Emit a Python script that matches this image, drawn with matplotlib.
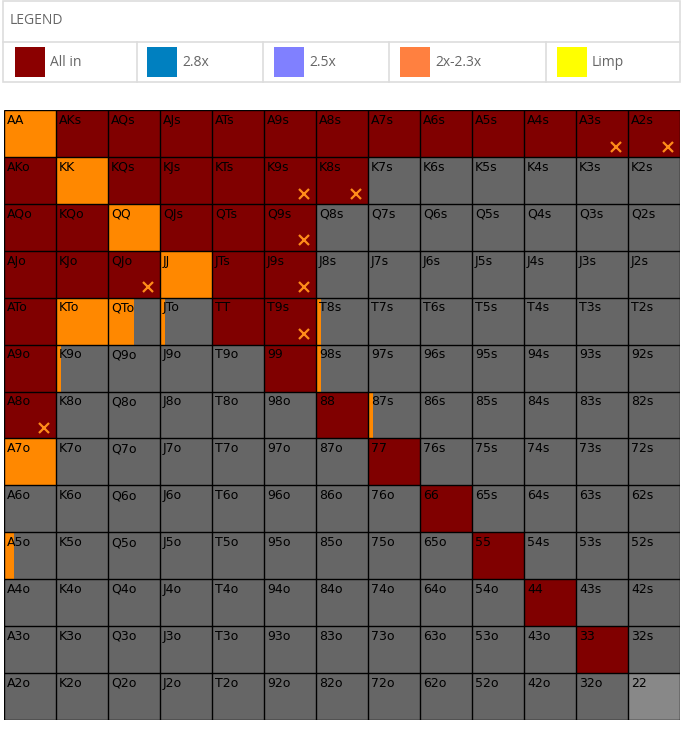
import matplotlib
matplotlib.use("Agg")
import matplotlib.pyplot as plt
from matplotlib.patches import Rectangle

W, H = 685, 734
ranks = ["A", "K", "Q", "J", "T", "9", "8", "7", "6", "5", "4", "3", "2"]

legend_labels = ["All in", "2.8x", "2.5x", "2x-2.3x", "Limp"]
legend_colors = ["#8B0000", "#0080C0", "#8080FF", "#FF8040", "#FFFF00"]

allin_hands = ["AKs", "AQs", "AJs", "ATs", "A9s", "A8s", "A7s", "A6s", "A5s", "A4s", "A3s", "A2s",
               "AKo", "KQs", "KJs", "KTs", "K9s", "K8s",
               "AQo", "KQo", "QJs", "QTs", "Q9s",
               "AJo", "KJo", "QJo", "JTs", "J9s",
               "ATo", "TT", "T9s",
               "A9o", "99", "A8o", "88", "77", "66", "55", "44", "33"]
raise_hands = ["AA", "KK", "QQ", "JJ", "KTo", "A7o", "QTo", "JTo", "T8s", "K9o", "98s", "87s", "A5o"]
raise_freq = [1.0, 1.0, 1.0, 1.0, 1.0, 1.0, 0.5, 0.1, 0.1, 0.1, 0.1, 0.1, 0.2]
marked_hands = ["A3s", "A2s", "K9s", "K8s", "Q9s", "QJo", "J9s", "T9s", "A8o"]
light_hands = ["22"]

ALLIN = "#800000"
RAISE = "#FF8800"
FOLD = "#666666"
LIGHT = "#888888"
MARK = "#FF8C1A"


def hand_name(i, j):
    if i == j:
        return ranks[i] + ranks[j]
    if j > i:
        return ranks[i] + ranks[j] + "s"
    return ranks[j] + ranks[i] + "o"


fig = plt.figure(figsize=(W / 100, H / 100), dpi=100)
fig.patch.set_facecolor("white")

# ---- Grid ----
gl, gr, gt, gb = 4, 680, 110, 720
ax = fig.add_axes([gl / W, 1 - gb / H, (gr - gl) / W, (gb - gt) / H])
ax.set_xlim(0, 13)
ax.set_ylim(13, 0)
ax.axis("off")

freq_map = dict(zip(raise_hands, raise_freq))
for i in range(13):
    for j in range(13):
        h = hand_name(i, j)
        base = LIGHT if h in light_hands else FOLD
        if h in allin_hands:
            base = ALLIN
        ax.add_patch(Rectangle((j, i), 1, 1, facecolor=base, edgecolor="none"))
        if h in freq_map:
            ax.add_patch(Rectangle((j, i), freq_map[h], 1, facecolor=RAISE, edgecolor="none"))
        ax.text(j + 0.06, i + 0.08, h, fontsize=9, color="black", ha="left", va="top",
                family="DejaVu Sans")
        if h in marked_hands:
            ax.plot(j + 0.76, i + 0.78, marker="x", markersize=7.5, mew=1.6, color=MARK)

for k in range(14):
    ax.plot([0, 13], [k, k], color="black", lw=1.0, solid_capstyle="butt")
    ax.plot([k, k], [0, 13], color="black", lw=1.0, solid_capstyle="butt")

# ---- Legend ----
lax = fig.add_axes([0, 0, 1, 1])
lax.set_xlim(0, W)
lax.set_ylim(H, 0)
lax.axis("off")
bc = "#DDDDDD"
lax.add_patch(Rectangle((3.5, 0.5), 676.5, 81.5, facecolor="none", edgecolor=bc, lw=1.2))
lax.plot([3.5, 680], [41.5, 41.5], color=bc, lw=1.2)
lax.text(10, 21, "LEGEND", fontsize=10, color="#666666", ha="left", va="center",
         family="Open Sans")
seps = [137.5, 263.5, 389.5, 546.5]
for s in seps:
    lax.plot([s, s], [41.5, 82], color=bc, lw=1.2)
sw_x = [15, 147, 274, 400, 557]
for x0, lab, col in zip(sw_x, legend_labels, legend_colors):
    lax.add_patch(Rectangle((x0, 47), 30, 30, facecolor=col, edgecolor="none"))
    lax.text(x0 + 35, 62, lab, fontsize=10, color="#666666", ha="left", va="center",
             family="Open Sans")

fig.savefig("out.png", dpi=100, facecolor="white")
